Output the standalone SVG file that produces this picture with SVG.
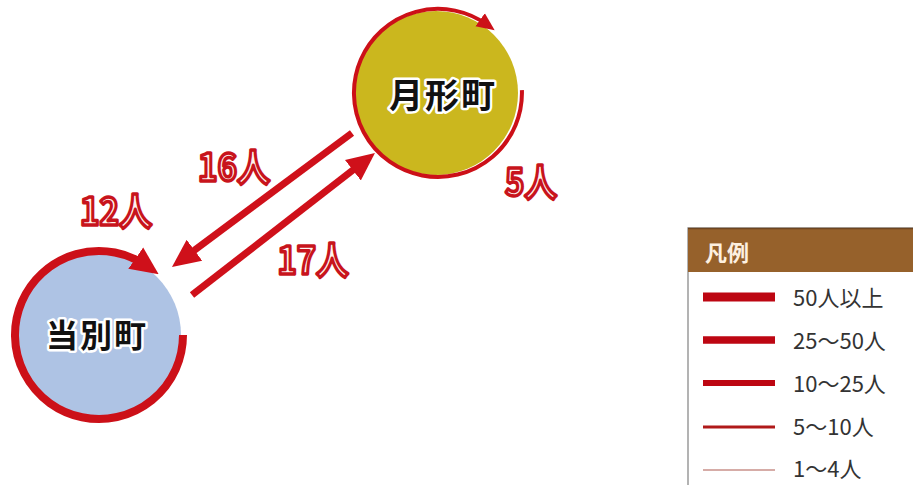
<svg xmlns="http://www.w3.org/2000/svg" width="913" height="485" viewBox="0 0 913 485">
<defs>
<style>
.ring{fill:none;stroke:#cc1018;}
.flow{stroke:#cf101a;stroke-width:7;fill:none;}
.town{font-family:"Noto Sans CJK JP","Noto Sans CJK SC",sans-serif;font-weight:700;fill:#111;stroke:#fff;stroke-width:5;stroke-linejoin:round;paint-order:stroke;text-anchor:middle;}
.num{font-family:"Noto Sans CJK JP","Noto Sans CJK SC",sans-serif;font-weight:700;font-size:38px;fill:#fff3ef;stroke:#c8141c;stroke-width:3.5;stroke-linejoin:round;text-anchor:middle;}
.leg{font-family:"Noto Sans CJK JP","Noto Sans CJK SC",sans-serif;font-size:22px;fill:#333;}
.lline{stroke:#bd0612;}
</style>
<marker id="ah" viewBox="0 0 28 28" refX="14" refY="14" markerWidth="28" markerHeight="28" markerUnits="userSpaceOnUse" orient="auto">
<path d="M0,1 L28,14 L0,27 z" fill="#cf101a"/>
</marker>
<marker id="ahs" viewBox="0 0 18 18" refX="9" refY="9" markerWidth="18" markerHeight="18" markerUnits="userSpaceOnUse" orient="auto">
<path d="M0,1 L18,9 L0,17 z" fill="#cc1018"/>
</marker>
</defs>
<rect width="913" height="485" fill="#fff"/>

<g id="node-tsukigata">
<circle cx="436" cy="93" r="82" fill="#cbb71e"/>
<path class="ring" stroke-width="4" d="M521.9,90.1 A84,84 0 1 1 487.4,25" marker-end="url(#ahs)"/>
<text class="town" x="443" y="108" font-size="34" letter-spacing="2">月形町</text>
</g>

<g id="node-tobetsu">
<circle cx="99" cy="335" r="82" fill="#aec3e4"/>
<path class="ring" stroke-width="8" d="M183,335 A84,84 0 1 1 147.2,266.2" marker-end="url(#ah)"/>
<text class="town" x="97" y="347" font-size="32" letter-spacing="2">当別町</text>
</g>

<g id="connectors">
<line class="flow" x1="352" y1="133" x2="183.2" y2="258.6" marker-end="url(#ah)"/>
<line class="flow" x1="192" y1="295" x2="363.9" y2="161.6" marker-end="url(#ah)"/>
</g>

<g id="labels">
<text class="num" x="116" y="225" textLength="72" lengthAdjust="spacingAndGlyphs">12人</text>
<text class="num" x="234" y="181" textLength="72" lengthAdjust="spacingAndGlyphs">16人</text>
<text class="num" x="313" y="274" textLength="71" lengthAdjust="spacingAndGlyphs">17人</text>
<text class="num" x="531" y="196" textLength="52" lengthAdjust="spacingAndGlyphs">5人</text>
</g>

<g id="legend">
<rect x="688" y="228" width="240" height="270" fill="#fff" stroke="#9a9a9a" stroke-width="1.5"/>
<rect x="688" y="228" width="240" height="44" fill="#96612b"/>
<line x1="688" y1="228.5" x2="913" y2="228.5" stroke="#6e4520" stroke-width="1.5"/>
<text x="705" y="261" font-family="'Noto Sans CJK JP','Noto Sans CJK SC',sans-serif" font-weight="700" font-size="22" fill="#fdf0e0">凡例</text>
<line class="lline" x1="703" y1="297" x2="775" y2="297" stroke-width="9"/>
<line class="lline" x1="703" y1="340" x2="775" y2="340" stroke-width="7.5"/>
<line class="lline" x1="703" y1="383" x2="775" y2="383" stroke-width="6"/>
<line x1="703" y1="427" x2="775" y2="427" stroke="#b01a1a" stroke-width="3"/>
<line x1="703" y1="470" x2="775" y2="470" stroke="#c8908a" stroke-width="1.5"/>
<text class="leg" x="793" y="306">50人以上</text>
<text class="leg" x="793" y="349">25～50人</text>
<text class="leg" x="793" y="392">10～25人</text>
<text class="leg" x="793" y="435">5～10人</text>
<text class="leg" x="793" y="477" font-size="21">1～4人</text>
</g>
</svg>
